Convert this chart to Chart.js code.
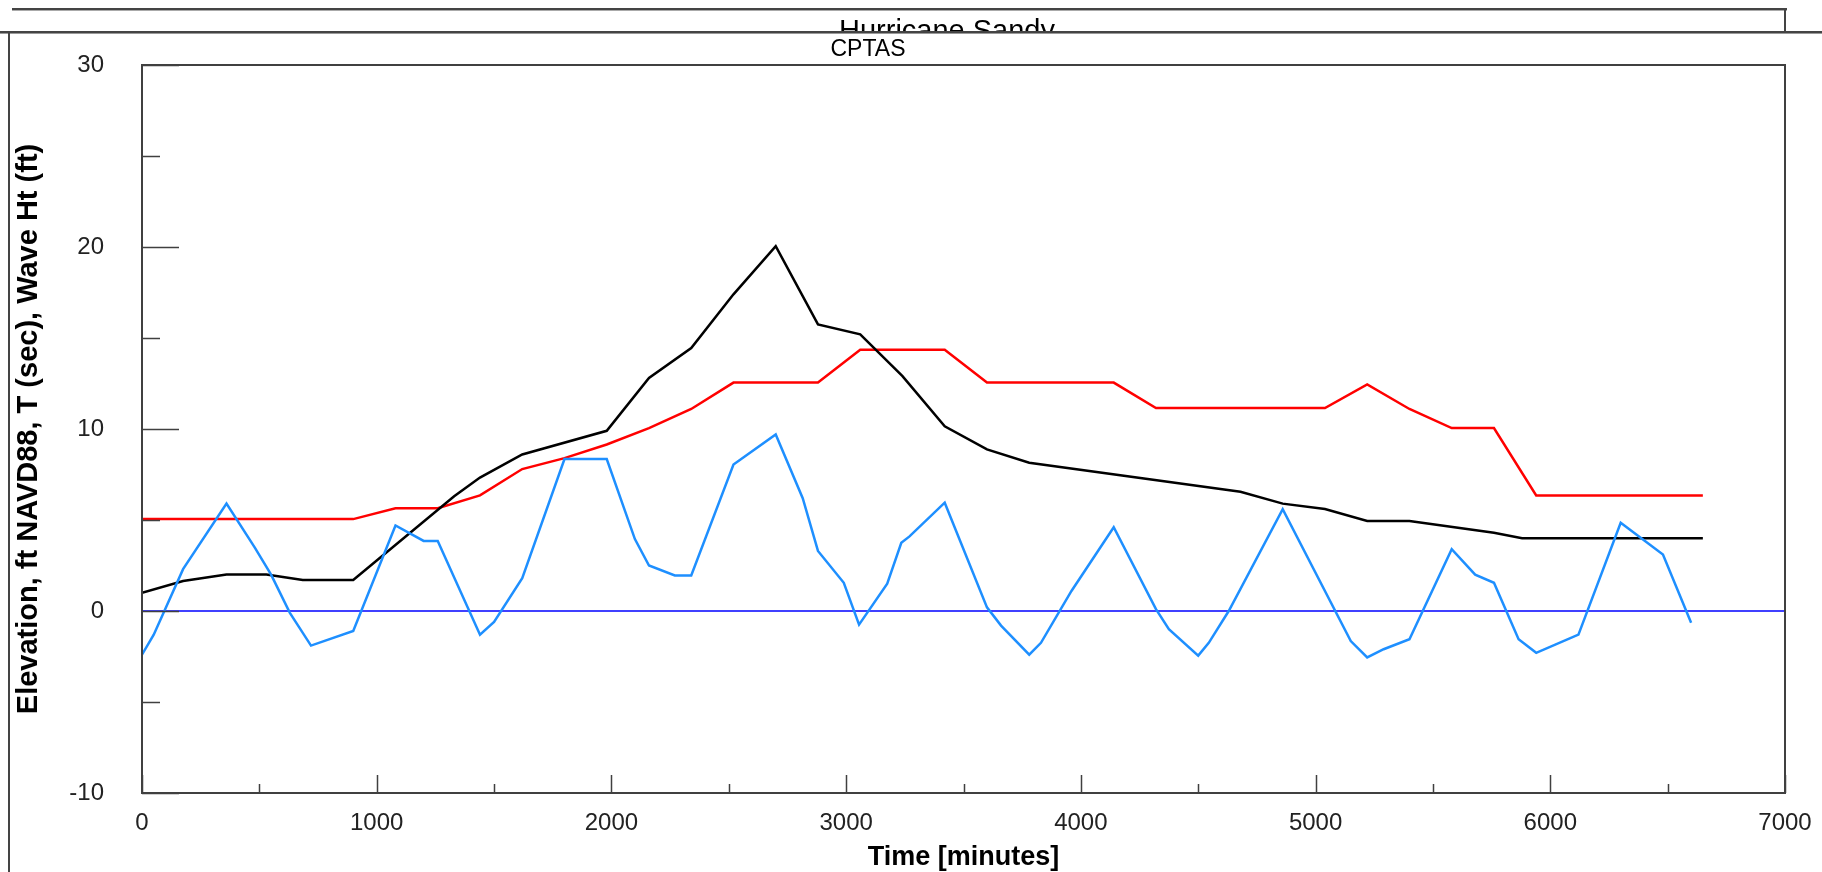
<!DOCTYPE html>
<html>
<head>
<meta charset="utf-8">
<title>CPTAS</title>
<script src="https://cdn.jsdelivr.net/npm/chart.js@4.4.1/dist/chart.umd.min.js"></script>
<style>
  html, body { margin: 0; padding: 0; background: #fff; }
  body { width: 1822px; height: 872px; position: relative; overflow: hidden; font-family: "Liberation Sans", Arial, sans-serif; }
  #chart { position: absolute; left: 0; top: 0; }
  .line { position: absolute; background: #444; }
  .header { position: absolute; left: 0; top: 0; width: 1822px; height: 31px; overflow: hidden; }
  .header span { position: absolute; left: 0; width: 1894px; top: 16px; line-height: 29px; text-align: center; font-size: 29px; color: #000; }
  .plot-title { position: absolute; left: 0; width: 1736px; top: 35px; line-height: 26px; text-align: center; font-size: 23px; color: #000; }
</style>
</head>
<body>
<canvas id="chart" width="1822" height="872"></canvas>

<!-- window frame around the chart -->
<div class="header"><span>Hurricane Sandy</span></div>
<div class="line" style="left:12px; top:8px; width:1775px; height:2px;"></div>
<div class="line" style="left:12px; top:10px; width:1775px; height:1px; background:#aaa;"></div>
<div class="line" style="left:1784px; top:8px; width:2px; height:24px;"></div>
<div class="line" style="left:0; top:31px; width:1822px; height:2px;"></div>
<div class="line" style="left:0; top:33px; width:1822px; height:1px; background:#999;"></div>
<div class="line" style="left:8px; top:31px; width:2px; height:841px;"></div>
<div class="plot-title">CPTAS</div>

<script>
// time axis (minutes)
const xTicks = [0, 1000, 2000, 3000, 4000, 5000, 6000, 7000];
const yTicks = [-10, 0, 10, 20, 30];

// black series
const blackTime = [0, 175, 360, 530, 685, 900, 1330, 1440, 1620, 1980, 2160, 2340, 2520, 2700, 2880, 3060, 3240, 3420, 3600, 3780, 4680, 4860, 5040, 5220, 5400, 5760, 5880, 6650];
const blackVal = [1.0, 1.65, 2.0, 2.0, 1.7, 1.7, 6.3, 7.33, 8.6, 9.9, 12.8, 14.45, 17.4, 20.05, 15.75, 15.2, 12.9, 10.15, 8.88, 8.15, 6.55, 5.9, 5.6, 4.95, 4.95, 4.3, 4.0, 4.0];

// red series
const redTime = [0, 900, 1080, 1260, 1440, 1620, 1800, 1980, 2160, 2340, 2520, 2880, 3060, 3420, 3600, 4140, 4320, 5040, 5220, 5400, 5580, 5760, 5940, 6650];
const redVal = [5.05, 5.05, 5.65, 5.65, 6.35, 7.8, 8.4, 9.15, 10.05, 11.1, 12.55, 12.55, 14.35, 14.35, 12.55, 12.55, 11.15, 11.15, 12.45, 11.1, 10.05, 10.05, 6.35, 6.35];

// blue series
const blueTime = [0, 50, 175, 360, 480, 550, 630, 720, 900, 1080, 1200, 1260, 1440, 1500, 1620, 1800, 1980, 2100, 2160, 2270, 2340, 2520, 2700, 2815, 2880, 2990, 3055, 3175, 3235, 3270, 3420, 3600, 3660, 3780, 3830, 3960, 4140, 4320, 4375, 4500, 4545, 4630, 4860, 5150, 5220, 5290, 5400, 5580, 5680, 5760, 5865, 5940, 6120, 6300, 6480, 6600];
const blueVal = [-2.4, -1.3, 2.3, 5.9, 3.5, 2.0, -0.1, -1.9, -1.1, 4.7, 3.85, 3.85, -1.3, -0.6, 1.8, 8.35, 8.35, 3.95, 2.5, 1.95, 1.95, 8.05, 9.7, 6.2, 3.3, 1.55, -0.75, 1.5, 3.75, 4.1, 5.95, 0.2, -0.8, -2.4, -1.75, 1.1, 4.6, 0.1, -1.0, -2.45, -1.75, 0.0, 5.6, -1.65, -2.55, -2.1, -1.55, 3.4, 2.0, 1.55, -1.55, -2.3, -1.3, 4.85, 3.1, -0.65];

// zero reference line
const zeroTime = [0, 7000];
const zeroVal = [0, 0];

const toPoints = (xs, ys) => xs.map((x, i) => ({ x: x, y: ys[i] }));

// box around the plot plus inward tick marks
const frame = {
  id: "frame",
  afterDraw(chart) {
    const { ctx, chartArea: a, scales } = chart;
    ctx.save();
    ctx.strokeStyle = "#404040";
    ctx.lineWidth = 2;
    ctx.strokeRect(a.left, a.top, a.right - a.left, a.bottom - a.top);
    ctx.beginPath();
    for (let v = yTicks[0]; v <= yTicks[yTicks.length - 1]; v += 5) {
      const y = Math.round(scales.y.getPixelForValue(v)) + 0.5;
      const len = v % 10 === 0 ? 37 : 18;
      ctx.moveTo(a.left, y);
      ctx.lineTo(a.left + len, y);
    }
    for (let t = xTicks[0]; t <= xTicks[xTicks.length - 1]; t += 500) {
      const x = Math.round(scales.x.getPixelForValue(t)) + 0.5;
      const len = t % 1000 === 0 ? 18 : 9;
      ctx.moveTo(x, a.bottom);
      ctx.lineTo(x, a.bottom - len);
    }
    ctx.lineWidth = 1.5;
    ctx.stroke();
    ctx.restore();
  }
};

const plain = (v) => String(v);

new Chart(document.getElementById("chart"), {
  type: "line",
  data: {
    datasets: [
      { data: toPoints(blueTime, blueVal), borderColor: "#1e8fff", borderWidth: 2.5, order: 0 },
      { data: toPoints(blackTime, blackVal), borderColor: "#000000", borderWidth: 2.5, order: 1 },
      { data: toPoints(redTime, redVal), borderColor: "#ff0000", borderWidth: 2.5, order: 2 },
      { data: toPoints(zeroTime, zeroVal), borderColor: "#4040ff", borderWidth: 2, order: 3 },
    ],
  },
  options: {
    responsive: false,
    animation: false,
    events: [],
    layout: { padding: { top: 65, right: 37, bottom: 0, left: 0 } },
    elements: { point: { radius: 0 }, line: { tension: 0 } },
    plugins: { legend: { display: false }, tooltip: { enabled: false } },
    scales: {
      x: {
        type: "linear",
        min: 0,
        max: 7000,
        grid: { display: false, drawTicks: false },
        border: { display: false },
        afterFit: (s) => { s.height = 79; s.paddingLeft = 0; s.paddingRight = 0; },
        afterBuildTicks: (s) => { s.ticks = xTicks.map((v) => ({ value: v })); },
        ticks: { padding: 16, color: "#222", font: { family: "Liberation Sans", size: 24 }, maxRotation: 0, callback: plain },
        title: {
          display: true,
          text: "Time [minutes]",
          color: "#000",
          font: { family: "Liberation Sans", size: 27, weight: "bold", lineHeight: 1.0 },
          padding: { top: 0, bottom: 1 },
        },
      },
      y: {
        type: "linear",
        min: -10,
        max: 30,
        grid: { display: false, drawTicks: false },
        border: { display: false },
        afterFit: (s) => { s.width = 142; },
        afterBuildTicks: (s) => { s.ticks = yTicks.map((v) => ({ value: v })); },
        ticks: { padding: 38, color: "#222", font: { family: "Liberation Sans", size: 24 }, callback: plain },
        title: {
          display: true,
          text: "Elevation, ft NAVD88, T (sec), Wave Ht (ft)",
          color: "#000",
          font: { family: "Liberation Sans", size: 29, weight: "bold", lineHeight: 1.0 },
          padding: { top: 14, bottom: 0 },
        },
      },
    },
  },
  plugins: [frame],
});
</script>
</body>
</html>
